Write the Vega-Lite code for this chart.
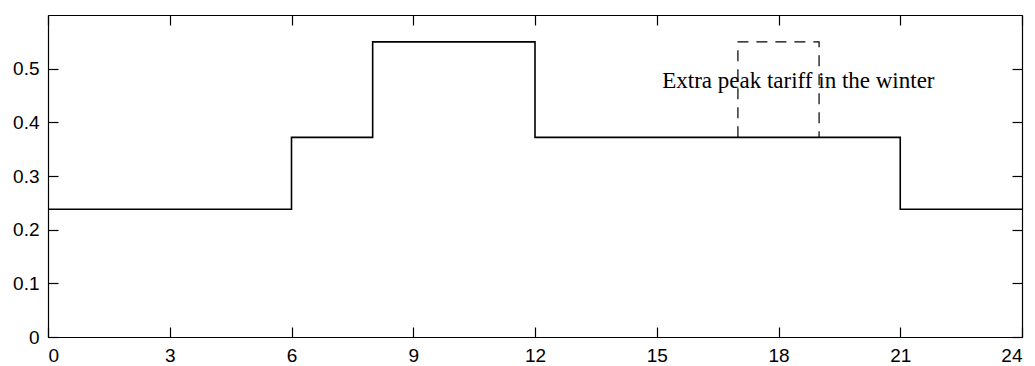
{
  "$schema": "https://vega.github.io/schema/vega-lite/v6.json",
  "width": 974,
  "height": 322,
  "autosize": {"type": "none"},
  "padding": {"left": 48, "top": 15, "right": 13, "bottom": 29},
  "background": "white",
  "config": {
    "view": {"stroke": null},
    "axis": {
      "grid": false,
      "title": null,
      "domainColor": "black",
      "domainWidth": 1.2,
      "tickColor": "black",
      "tickWidth": 1.2,
      "tickSize": 10,
      "labelColor": "black",
      "labelFont": "Liberation Sans",
      "labelFontSize": 19,
      "labelPadding": 9
    }
  },
  "datasets": {
    "tariff": [
      {"hour": 0, "price": 0.238},
      {"hour": 6, "price": 0.372},
      {"hour": 8, "price": 0.55},
      {"hour": 12, "price": 0.372},
      {"hour": 21, "price": 0.238},
      {"hour": 24, "price": 0.238}
    ],
    "winter_peak": [
      {"seq": 1, "hour": 17, "price": 0.372},
      {"seq": 2, "hour": 17, "price": 0.55},
      {"seq": 3, "hour": 19, "price": 0.55},
      {"seq": 4, "hour": 19, "price": 0.372}
    ],
    "note": [
      {"hour": 18.49, "price": 0.464, "label": "Extra peak tariff in the winter"}
    ]
  },
  "layer": [
    {
      "data": {"name": "tariff"},
      "mark": {"type": "line", "interpolate": "step-after", "color": "black", "strokeWidth": 1.6},
      "encoding": {
        "x": {
          "field": "hour", "type": "quantitative",
          "scale": {"domain": [0, 24], "nice": false, "zero": false},
          "axis": {"orient": "bottom", "ticks": false, "values": [0, 3, 6, 9, 12, 15, 18, 21, 24], "format": "d"}
        },
        "y": {
          "field": "price", "type": "quantitative",
          "scale": {"domain": [0, 0.6], "nice": false},
          "axis": {"orient": "left", "ticks": false, "values": [0, 0.1, 0.2, 0.3, 0.4, 0.5], "format": ".1~f"}
        }
      }
    },
    {
      "data": {"name": "winter_peak"},
      "mark": {"type": "line", "color": "black", "strokeWidth": 1.2, "strokeDash": [11, 8]},
      "encoding": {
        "x": {
          "field": "hour", "type": "quantitative",
          "axis": {"orient": "top", "offset": -322, "labels": false, "domain": false, "values": [0, 3, 6, 9, 12, 15, 18, 21, 24]}
        },
        "y": {
          "field": "price", "type": "quantitative",
          "axis": {"orient": "right", "offset": -974, "labels": false, "domain": false, "values": [0, 0.1, 0.2, 0.3, 0.4, 0.5]}
        },
        "order": {"field": "seq", "type": "quantitative"}
      }
    },
    {
      "data": {"name": "note"},
      "mark": {"type": "text", "font": "Liberation Serif", "fontSize": 23, "color": "black", "align": "center", "baseline": "alphabetic"},
      "encoding": {
        "x": {
          "field": "hour", "type": "quantitative",
          "axis": {"orient": "bottom", "offset": -322, "labels": false, "values": [0, 3, 6, 9, 12, 15, 18, 21, 24]}
        },
        "y": {
          "field": "price", "type": "quantitative",
          "axis": {"orient": "left", "offset": -974, "labels": false, "values": [0, 0.1, 0.2, 0.3, 0.4, 0.5]}
        },
        "text": {"field": "label"}
      }
    }
  ],
  "resolve": {"axis": {"x": "independent", "y": "independent"}}
}
